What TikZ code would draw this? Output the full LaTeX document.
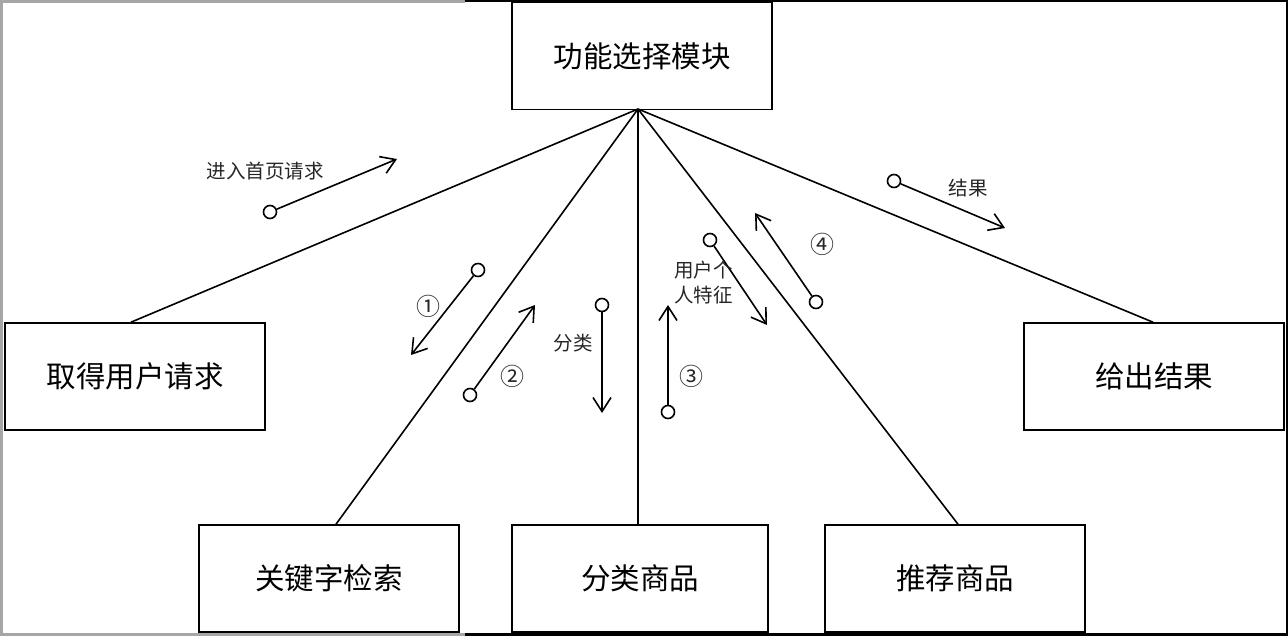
\documentclass[tikz,border=0pt]{standalone}
\usepackage{fontspec}
\setmainfont{Noto Sans CJK SC}
\newfontfamily\cjk{Noto Sans CJK SC}
\usetikzlibrary{arrows.meta}
\begin{document}
\begin{tikzpicture}[x=1pt,y=-1pt,
  box/.style={draw,line width=1.6pt,minimum width=260pt,minimum height=107pt,inner sep=0pt,font=\fontsize{29.5}{31}\selectfont\cjk},
  link/.style={line width=1.6pt},
  flow/.style={line width=1.6pt,-{Straight Barb[length=14pt,width=18pt,line width=1.6pt]},shorten <=0pt},
  dot/.style={circle,draw,line width=1.6pt,fill=white,minimum size=13pt,inner sep=0pt},
  lab/.style={font=\fontsize{19.5}{25}\selectfont\cjk,text=black!85,inner sep=0pt,align=left},
  num/.style={font=\fontsize{24}{25}\selectfont\cjk,text=black!85,inner sep=0pt}]
\useasboundingbox (0,0) rectangle (1288,636);
% frame of the screenshot
\fill[white] (0,0) rectangle (1288,636);
\draw[gray!70,line width=3pt] (1.5,636) -- (1.5,1.5) -- (465,1.5);
\draw[gray!70,line width=3pt] (0,634.5) -- (465,634.5);
\draw[black,line width=2pt] (465,1) -- (1287,1) -- (1287,636);
\draw[black,line width=3.5pt] (465,634.5) -- (1288,634.5);
% boxes
\node[box] (top) at (642,56) {功能选择模块};
\node[box] (req) at (135,376.5) {取得用户请求};
\node[box] (key) at (329,578.5) {关键字检索};
\node[box,minimum width=256pt] (cat) at (640,578.5) {分类商品};
\node[box] (rec) at (955,578.5) {推荐商品};
\node[box] (res) at (1154,376.5) {给出结果};
\coordinate (hub) at (638,109);
% links
\draw[link] (hub) -- ([xshift=-4pt]req.north);
\draw[link] (hub) -- ([xshift=7pt]key.north);
\draw[link] (hub) -- ([xshift=-2pt]cat.north);
\draw[link] (hub) -- ([xshift=3pt]rec.north);
\draw[link] (hub) -- ([xshift=-1pt]res.north);
% flows
\node[dot] (c0) at (270,212) {};
\coordinate (t0) at (397,159);
\draw[flow] (c0) -- (t0);
\node[lab] (l0) at (265,171) {进入首页请求};

\node[dot] (c1) at (478,270) {};
\coordinate (t1) at (411,355);
\draw[flow] (c1) -- (t1);
\node[num] (l1) at (428,306) {①};

\node[dot] (c2) at (470,395) {};
\coordinate (t2) at (535,305);
\draw[flow] (c2) -- (t2);
\node[num] (l2) at (512,376) {②};

\node[dot] (c3) at (602,305) {};
\coordinate (t3) at (602,413);
\draw[flow] (c3) -- (t3);
\node[lab] (l3) at (573,343) {分类};

\node[dot] (c4) at (668,412) {};
\coordinate (t4) at (668,305);
\draw[flow] (c4) -- (t4);
\node[num] (l4) at (691,376) {③};

\node[dot] (c5) at (710,240) {};
\coordinate (t5) at (767,325);
\draw[flow] (c5) -- (t5);
\node[lab,anchor=west] (l5) at (674,283) {用户个\\人特征};

\node[dot] (c6) at (816,302) {};
\coordinate (t6) at (755,213);
\draw[flow] (c6) -- (t6);
\node[num] (l6) at (822,244) {④};

\node[dot] (c7) at (894,181) {};
\coordinate (t7) at (1005,228);
\draw[flow] (c7) -- (t7);
\node[lab] (l7) at (968,188) {结果};
\end{tikzpicture}
\end{document}
